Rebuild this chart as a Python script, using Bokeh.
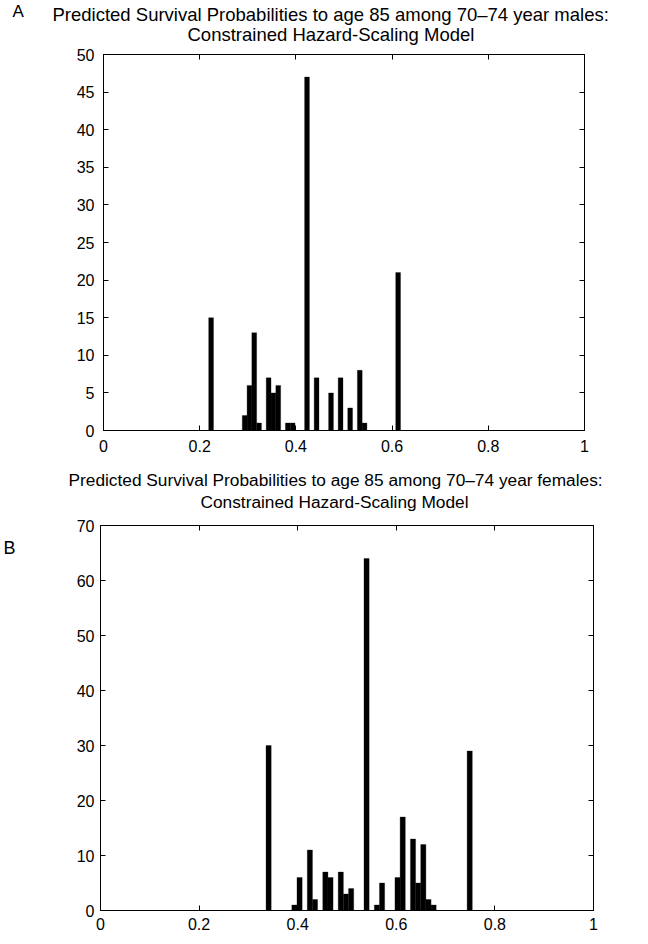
from bokeh.plotting import figure
from bokeh.models import Range1d, FixedTicker, NumeralTickFormatter, LinearAxis, Title
from bokeh.layouts import column, row
from bokeh.core.properties import value
from bokeh.embed import file_html
from bokeh.resources import INLINE

# ---------------- data ----------------
# Panel A: males, histogram bin centres and counts
male_bin_centers = [0.2237, 0.2935, 0.3035, 0.3134, 0.3234, 0.3433, 0.3533, 0.3633,
                    0.3832, 0.3932, 0.4231, 0.4430, 0.4730, 0.4929, 0.5128, 0.5328,
                    0.5427, 0.6125]
male_counts = [15, 2, 6, 13, 1, 7, 5, 6, 1, 1, 47, 7, 5, 7, 3, 8, 1, 21]

# Panel B: females, histogram bin centres and counts
female_bin_centers = [0.3410, 0.3933, 0.4038, 0.4247, 0.4351, 0.4561, 0.4665, 0.4874,
                      0.4979, 0.5084, 0.5397, 0.5607, 0.5711, 0.6025, 0.6130, 0.6339,
                      0.6443, 0.6548, 0.6653, 0.6757, 0.7489]
female_counts = [30, 1, 6, 11, 2, 7, 6, 7, 3, 4, 64, 1, 5, 6, 17, 13, 5, 12, 2, 1, 29]

x_ticks = [0, 0.2, 0.4, 0.6, 0.8, 1]
male_y_ticks = [0, 5, 10, 15, 20, 25, 30, 35, 40, 45, 50]
female_y_ticks = [0, 10, 20, 30, 40, 50, 60, 70]

title_a_1 = "Predicted Survival Probabilities to age 85 among 70\u201374 year males:"
title_b_1 = "Predicted Survival Probabilities to age 85 among 70\u201374 year females:"
title_2 = "Constrained Hazard-Scaling Model"

FONT = "Liberation Sans"
MALE_BIN_W = 0.00997
FEMALE_BIN_W = 0.01046
LETTER_W = 40


def style_axis(ax, ticks, show_labels, standoff, fmt=None):
    ax.ticker = FixedTicker(ticks=ticks)
    ax.minor_tick_line_color = None
    ax.major_tick_in = 5
    ax.major_tick_out = 0
    ax.major_tick_line_color = "black"
    ax.axis_line_color = "black"
    ax.axis_line_width = 1
    if fmt is not None:
        ax.formatter = fmt
    if show_labels:
        ax.major_label_text_font = FONT
        ax.major_label_text_font_size = "16px"
        ax.major_label_text_color = "black"
        ax.major_label_standoff = standoff
    else:
        ax.major_label_text_color = None
        ax.major_label_text_font_size = "1px"
        ax.major_label_standoff = 0


def make_panel(centers, counts, bin_w, y_max, y_ticks, mb_left, fw, mb_right,
               mb_top, fh, mb_bottom, y_standoff, x_standoff):
    p = figure(frame_width=fw, frame_height=fh,
               min_border_left=mb_left, min_border_right=mb_right,
               min_border_top=mb_top, min_border_bottom=mb_bottom,
               x_range=Range1d(0, 1), y_range=Range1d(0, y_max),
               output_backend="svg", toolbar_location=None)
    p.xgrid.visible = False
    p.ygrid.visible = False
    p.outline_line_color = "black"
    p.background_fill_color = "white"
    p.border_fill_color = "white"
    fmt = NumeralTickFormatter(format="0.[0]")
    style_axis(p.xaxis[0], x_ticks, True, x_standoff, fmt)
    style_axis(p.yaxis[0], y_ticks, True, y_standoff)
    top = LinearAxis()
    style_axis(top, x_ticks, False, 0)
    p.add_layout(top, "above")
    right = LinearAxis()
    style_axis(right, y_ticks, False, 0)
    p.add_layout(right, "right")
    p.vbar(x=centers, top=counts, width=bin_w, bottom=0,
           fill_color="black", line_color="black", line_width=0.3)
    return p


def add_title(p, text, size, offset, standoff, valign):
    # titles are stacked outward from the frame in the order they are added
    p.add_layout(Title(text=text, align="left", offset=offset, text_font=FONT,
                       text_font_size=size, text_font_style="normal",
                       text_color="black", standoff=standoff,
                       vertical_align=valign), "above")


# ---- panel A ----
pa = make_panel(male_bin_centers, male_counts, MALE_BIN_W, 50, male_y_ticks,
                103, 481, 48, 54, 376, 30, 9, 9)
add_title(pa, title_2, "18.5px", 84, 14.6, "top")
add_title(pa, title_a_1, "18.5px", -51, -16.6, "bottom")
add_title(pa, "A", "17px", -91, -20.3, "bottom")

# ---- panel B ----
pb = make_panel(female_bin_centers, female_counts, FEMALE_BIN_W, 70, female_y_ticks,
                100 - LETTER_W, 493, 39, 65, 385, 26, 6, 7)
add_title(pb, title_2, "17.3px", 100, 24, "top")
add_title(pb, title_b_1, "17.3px", -32, -20.6, "bottom")

lb = figure(frame_width=LETTER_W, frame_height=385, min_border_left=0,
            min_border_right=0, min_border_top=65, min_border_bottom=26,
            x_range=Range1d(0, LETTER_W), y_range=Range1d(385, 0),
            x_axis_type=None, y_axis_type=None,
            output_backend="svg", toolbar_location=None)
lb.grid.visible = False
lb.outline_line_color = None
lb.border_fill_color = "white"
lb.text(x=[3], y=[22], text=["B"], text_font=value(FONT),
        text_font_size=value("18px"), text_color="black",
        text_align="left", text_baseline="alphabetic")

layout = column(pa, row(lb, pb, spacing=0), spacing=0)
open("out.html", "w").write(file_html(layout, INLINE))
